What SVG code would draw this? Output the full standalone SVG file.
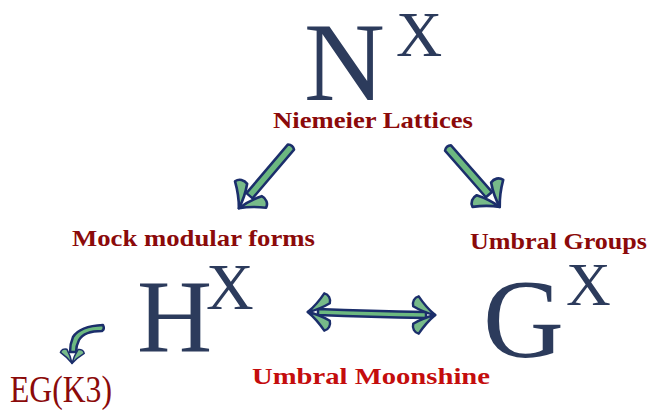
<svg xmlns="http://www.w3.org/2000/svg" width="650" height="410" viewBox="0 0 650 410">
<defs>
<style>
.big{font-family:"Liberation Serif","Times New Roman",serif;fill:#2c3b5c;}
.lbl{font-family:"Liberation Serif","Times New Roman",serif;font-weight:bold;fill:#8b0a0a;font-size:23px;}
.shaft{fill:#6cb880;stroke:#1b2e6b;stroke-width:2.5;stroke-linejoin:round;}
.wing{fill:#5fae74;fill-opacity:0.85;stroke:#1b2e6b;stroke-width:2.2;stroke-linejoin:round;}
</style>
<g id="head">
<path class="wing" d="M2,0 C-4,-5 -9,-11 -13,-17 C-17,-16 -19,-12 -18,-8 C-13,-5 -7,-2 2,0 Z"/>
<path class="wing" d="M2,0 C-4,5 -9,11 -13,17 C-17,16 -19,12 -18,8 C-13,5 -7,2 2,0 Z"/>
</g>
</defs>
<rect width="650" height="410" fill="#ffffff"/>

<g id="connectors">
<g id="arrow-left" transform="translate(291,147) rotate(130.4)">
<path class="shaft" d="M0,-4 Q-3,0 0,4 L64,4 L64,-4 Z"/>
<use href="#head" transform="translate(78,0) scale(1.2)"/>
</g>
<g id="arrow-right" transform="translate(448,148) rotate(48.7)">
<path class="shaft" d="M0,-4 Q-3,0 0,4 L62,4 L62,-4 Z"/>
<use href="#head" transform="translate(76,0) scale(1.2)"/>
</g>
<g id="arrow-double">
<path class="shaft" d="M318,309 Q370,311 426,312 L426,318 Q370,317 318,315 Z"/>
<use href="#head" transform="translate(310,312) rotate(180) scale(1.1)"/>
<use href="#head" transform="translate(433,315) scale(1.1)"/>
</g>
<g id="arrow-small">
<path class="shaft" d="M103,325 Q105,329 102,331 Q84,331 79,340 Q76,346 76,352 L70,352 Q70,344 73,337 Q80,326 103,325 Z"/>
<use href="#head" transform="translate(72,362) rotate(92) scale(0.7)"/>
</g>
</g>

<g id="node-N">
<text class="big" x="304" y="100" font-size="112">N</text>
<text class="big" x="396" y="56" font-size="64">X</text>
<text class="lbl" x="273" y="128" textLength="200" lengthAdjust="spacingAndGlyphs">Niemeier Lattices</text>
</g>
<g id="node-H">
<text class="lbl" x="72" y="246" textLength="243" lengthAdjust="spacingAndGlyphs">Mock modular forms</text>
<text class="big" x="137" y="352" font-size="104">H</text>
<text class="big" x="206" y="309" font-size="66">X</text>
</g>
<g id="node-G">
<text class="lbl" x="470" y="249" textLength="177" lengthAdjust="spacingAndGlyphs">Umbral Groups</text>
<text class="big" x="483" y="357" font-size="112">G</text>
<text class="big" x="566" y="305" font-size="62">X</text>
</g>
<g id="label-moonshine">
<text class="lbl" x="252" y="384" textLength="238" lengthAdjust="spacingAndGlyphs" style="fill:#c40d0d">Umbral Moonshine</text>
</g>
<g id="node-EG">
<text x="10" y="402" font-family="'Liberation Serif','Times New Roman',serif" font-size="38" fill="#8b0a0a" textLength="102" lengthAdjust="spacingAndGlyphs">EG(K3)</text>
</g>
</svg>
